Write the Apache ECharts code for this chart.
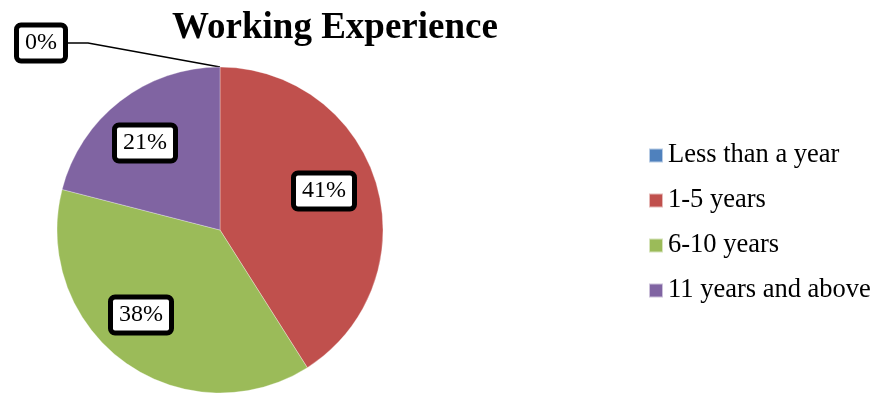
<!DOCTYPE html>
<html><head><meta charset="utf-8">
<script src="https://cdn.jsdelivr.net/npm/echarts@6/dist/echarts.min.js"></script>
<style>html,body{margin:0;padding:0;background:#fff}#c{width:880px;height:394px}</style>
</head><body><div id="c"></div>
<script>
const categories = ['Less than a year', '1-5 years', '6-10 years', '11 years and above'];
const values = [0, 41, 38, 21];
const colors = ['#4F81BD', '#C0504D', '#9BBB59', '#8064A2'];
const labelPos = [[41, 43], [324, 191], [141, 315], [145, 143]];

const chart = echarts.init(document.getElementById('c'));
const serif = '"Liberation Serif", "Times New Roman", serif';
chart.setOption({
  animation: false,
  title: {
    text: 'Working Experience', left: 330, top: 5, textAlign: 'center',
    textStyle: { fontFamily: serif, fontWeight: 'bold', fontSize: 37, color: '#000' }
  },
  legend: {
    orient: 'vertical', left: 643, top: 137, itemWidth: 14, itemHeight: 14, itemGap: 18,
    icon: 'rect',
    textStyle: { fontFamily: serif, fontSize: 26.5, lineHeight: 26, color: '#000' },
    data: categories
  },
  series: [{
    type: 'pie', center: [220, 230], radius: 163, startAngle: 90, clockwise: true,
    stillShowZeroSum: true, minShowLabelAngle: 0,
    itemStyle: { borderColor: 'rgba(255,255,255,0.6)', borderWidth: 0.5 },
    label: {
      show: true, formatter: '{d}%', fontFamily: serif, fontSize: 24, color: '#000',
      backgroundColor: '#fff', borderColor: '#000', borderWidth: 5, borderRadius: 2,
      padding: [4, 6, 3, 6]
    },
    labelLine: { lineStyle: { color: '#000', width: 1.5 } },
    labelLayout: function (p) {
      const pos = labelPos[p.dataIndex];
      return { x: pos[0], y: pos[1], align: 'center', verticalAlign: 'middle' };
    },
    data: categories.map((n, i) => ({
      name: n, value: values[i], itemStyle: { color: colors[i] },
      label: { position: values[i] === 0 ? 'outside' : 'inside' },
      labelLine: { show: values[i] === 0, length: 20, length2: 20 }
    }))
  }]
});
</script></body></html>
